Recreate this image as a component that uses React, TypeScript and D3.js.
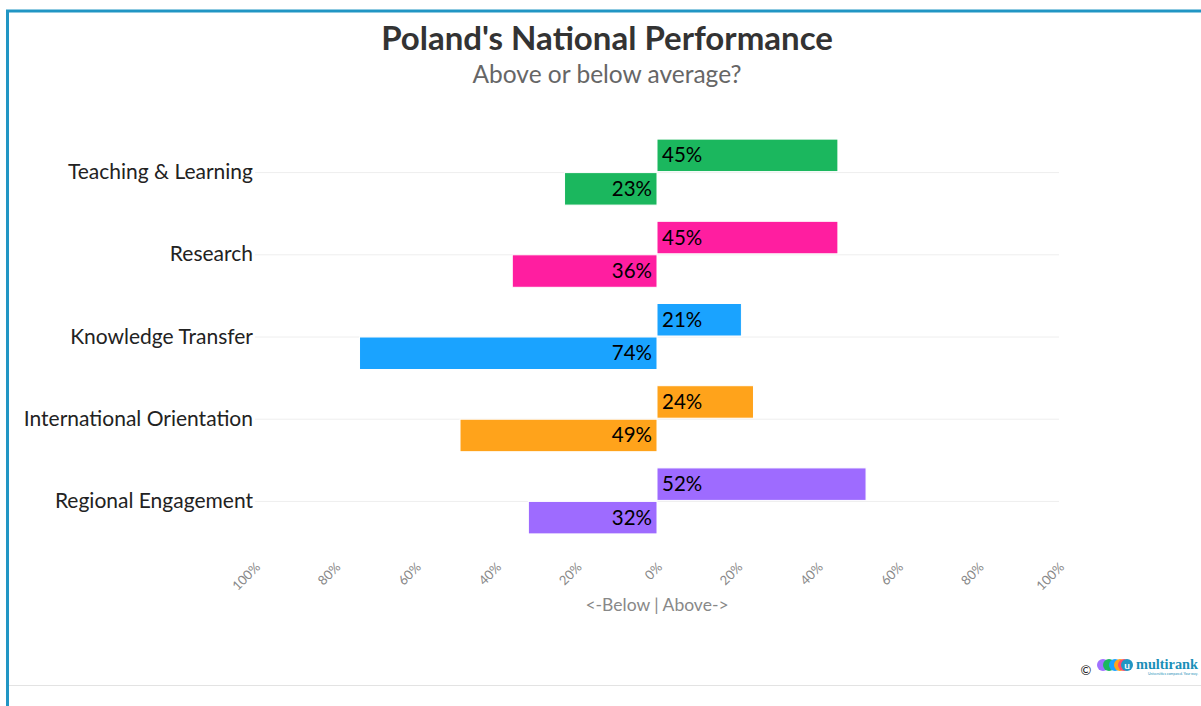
import React from "react";
import * as d3 from "d3";

const categories = [
  "Teaching & Learning",
  "Research",
  "Knowledge Transfer",
  "International Orientation",
  "Regional Engagement",
];
const aboveValues = [45, 45, 21, 24, 52];
const belowValues = [23, 36, 74, 49, 32];
const colors = ["#1bb75e", "#ff1ea0", "#1aa3ff", "#ffa31b", "#9e6bff"];
const tickValues = [-100, -80, -60, -40, -20, 0, 20, 40, 60, 80, 100];

const W = 1201;
const H = 706;
const FONT = "Lato, 'Open Sans', sans-serif";

export default function App() {
  const x = d3.scaleLinear().domain([-100, 100]).range([255, 1059]);
  const y = d3.scaleBand<string>().domain(categories).range([131, 542]).padding(0);
  const sub = d3
    .scaleBand<string>()
    .domain(["above", "below"])
    .range([y.bandwidth() / 2 - 33, y.bandwidth() / 2 + 33])
    .paddingInner(0.03);

  return (
    <svg
      width={W}
      height={H}
      style={{ position: "absolute", left: 0, top: 0, background: "#fff" }}
      fontFamily={FONT}
    >
      <rect x={0} y={0} width={W} height={H} fill="#fff" />
      {/* frame */}
      <line x1={6} x2={W} y1={11} y2={11} stroke="#2196c4" strokeWidth={3} />
      <line x1={7.5} x2={7.5} y1={10} y2={H} stroke="#2196c4" strokeWidth={3} />
      <line x1={9} x2={W} y1={685.5} y2={685.5} stroke="#e3e3e3" strokeWidth={1} />

      {/* titles */}
      <text x={607} y={50} textAnchor="middle" fontSize={33} fontWeight={700} fill="#333">
        Poland's National Performance
      </text>
      <text x={607} y={83} textAnchor="middle" fontSize={24.5} fill="#666">
        Above or below average?
      </text>

      {/* gridlines at category centers */}
      {categories.map((c) => {
        const cy = (y(c) as number) + y.bandwidth() / 2;
        return (
          <line key={"g" + c} x1={255} x2={1059} y1={cy + 0.5} y2={cy + 0.5} stroke="#eeeeee" />
        );
      })}

      {/* bars */}
      {categories.map((c, i) => {
        const y0 = y(c) as number;
        const ya = y0 + (sub("above") as number);
        const yb = y0 + (sub("below") as number);
        const bh = sub.bandwidth();
        const xa = x(aboveValues[i]);
        const xb = x(-belowValues[i]);
        const x0 = x(0);
        return (
          <g key={"b" + c}>
            <rect x={x0} y={ya} width={xa - x0} height={bh} fill={colors[i]} stroke="#fff" strokeWidth={1} />
            <rect x={xb} y={yb} width={x0 - xb} height={bh} fill={colors[i]} stroke="#fff" strokeWidth={1} />
            <text x={x0 + 5} y={ya + bh / 2 + 7} fontSize={20.5} fill="#000">
              {aboveValues[i]}%
            </text>
            <text x={x0 - 5} y={yb + bh / 2 + 7} fontSize={20.5} fill="#000" textAnchor="end">
              {belowValues[i]}%
            </text>
          </g>
        );
      })}

      {/* category labels */}
      {categories.map((c) => {
        const cy = (y(c) as number) + y.bandwidth() / 2;
        return (
          <text key={"l" + c} x={253} y={cy + 7} textAnchor="end" fontSize={21} fill="#222">
            {c}
          </text>
        );
      })}

      {/* x tick labels */}
      {tickValues.map((t) => (
        <text
          key={"t" + t}
          transform={`translate(${x(t) + 6},${568}) rotate(-45)`}
          textAnchor="end"
          fontSize={13}
          fill="#888"
        >
          {Math.abs(t)}%
        </text>
      ))}
      <text x={657} y={611} textAnchor="middle" fontSize={17.5} fill="#888">
        {"<-Below | Above->"}
      </text>

      {/* credit logo */}
      <text x={1086} y={675} textAnchor="middle" fontSize={13} fill="#222">
        ©
      </text>
      <circle cx={1103} cy={665} r={6} fill="#a071ff" />
      <circle cx={1109} cy={665} r={6} fill="#1bb75e" />
      <circle cx={1115} cy={665} r={6} fill="#1aa3ff" />
      <circle cx={1120} cy={665} r={6} fill="#ffa31b" />
      <circle cx={1124} cy={665} r={6} fill="#ff4b6e" />
      <circle cx={1127} cy={665} r={6} fill="#2196c4" />
      <text x={1127} y={669} textAnchor="middle" fontSize={10} fontWeight={700} fill="#fff">
        u
      </text>
      <text
        x={1136}
        y={669}
        fontSize={15}
        fontWeight={700}
        fill="#1a8fb8"
        fontFamily="'Liberation Serif', serif"
        textLength={62}
        lengthAdjust="spacingAndGlyphs"
      >
        multirank
      </text>
      <text x={1148} y={675} fontSize={3} fill="#1a8fb8" textLength={50} lengthAdjust="spacingAndGlyphs">
        Universities compared. Your way.
      </text>
    </svg>
  );
}
